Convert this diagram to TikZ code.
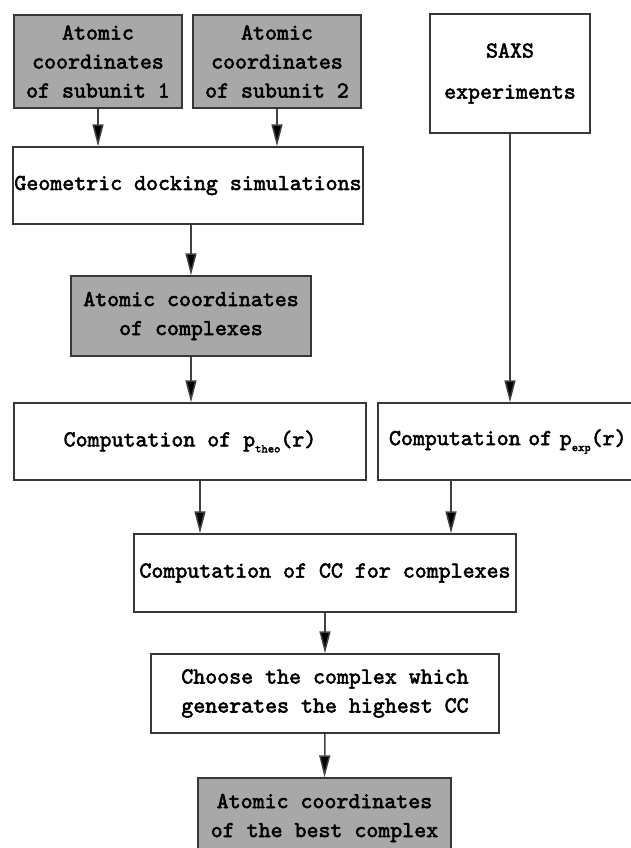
\documentclass[tikz,border=0pt]{standalone}
\usepackage{fontspec}
\newfontfamily\cour{lmmono10-regular.otf}[FakeBold=2.4]
\usetikzlibrary{arrows.meta}
\definecolor{boxgray}{RGB}{168,168,168}
\definecolor{edge}{RGB}{55,55,55}
\definecolor{linec}{RGB}{65,65,65}
\newcommand{\subsc}[1]{\raisebox{-6pt}{\fontsize{12}{12}\selectfont #1}}
\begin{document}
\begin{tikzpicture}[x=1pt,y=-1pt,
  box/.style={draw=edge, line width=1.4pt, fill=white, rectangle, inner sep=0pt, align=center,
    font=\cour\fontsize{22.8}{29}\selectfont},
  graybox/.style={box, fill=boxgray},
  arr/.style={draw=linec, line width=1.5pt, -{Triangle[length=22pt,width=11pt,fill=black]}}]
\useasboundingbox (0,0) rectangle (631,848);
\node[graybox, minimum width=168pt, minimum height=93pt] (s1) at (98,61.5) {Atomic\\coordinates\\of subunit 1};
\node[graybox, minimum width=168pt, minimum height=93pt] (s2) at (277,61.5) {Atomic\\coordinates\\of subunit 2};
\node[box, minimum width=160pt, minimum height=119pt] (saxs) at (510,73.5) {SAXS\\[12pt]experiments};
\node[box, minimum width=350pt, minimum height=77pt] (dock) at (188,185.5) {Geometric docking simulations};
\node[graybox, minimum width=240pt, minimum height=80pt] (cplx) at (191,316) {Atomic coordinates\\of complexes};
\node[box, minimum width=352pt, minimum height=77pt] (ptheo) at (190,441.5) {Computation of p\subsc{theo}(r)};
\node[box, minimum width=262pt, minimum height=77pt, text width=240pt, align=left] (pexp) at (509,441.5) {Computation of p\subsc{exp}(r)};
\node[box, minimum width=382pt, minimum height=78pt] (cc) at (325,573) {Computation of CC for complexes};
\node[box, minimum width=348pt, minimum height=79pt] (choose) at (325,693.5) {Choose the complex which\\generates the highest CC};
\node[graybox, minimum width=253pt, minimum height=80pt] (best) at (324.5,818) {Atomic coordinates\\of the best complex};
\coordinate (pt) at ([xshift=10pt]ptheo.south);
\coordinate (pe) at ([xshift=-58pt]pexp.south);
\draw[arr] (s1.south) -- (s1.south |- dock.north);
\draw[arr] (s2.south) -- (s2.south |- dock.north);
\draw[arr] (cplx.north |- dock.south) -- (cplx.north);
\draw[arr] (cplx.south) -- (cplx.south |- ptheo.north);
\draw[arr] (saxs.south) -- (saxs.south |- pexp.north);
\draw[arr] (pt) -- (pt |- cc.north);
\draw[arr] (pe) -- (pe |- cc.north);
\draw[arr] (cc.south) -- (choose.north);
\draw[arr] (choose.south) -- (best.north);
\end{tikzpicture}
\end{document}
